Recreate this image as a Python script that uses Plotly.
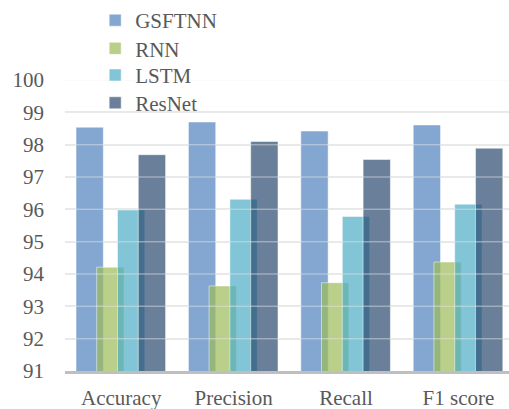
import plotly.graph_objects as go

categories = ["Accuracy", "Precision", "Recall", "F1 score"]
series_names = ["GSFTNN", "RNN", "LSTM", "ResNet"]
gsftnn = [98.54, 98.70, 98.42, 98.61]
rnn = [94.21, 93.63, 93.73, 94.37]
lstm = [95.98, 96.31, 95.78, 96.16]
resnet = [97.69, 98.10, 97.54, 97.89]
y_ticks = [91, 92, 93, 94, 95, 96, 97, 98, 99, 100]

values = [gsftnn, rnn, lstm, resnet]
colors = ["rgba(79,129,189,0.7)", "rgba(155,187,89,0.7)",
          "rgba(75,172,198,0.7)", "rgba(41,73,111,0.7)"]
offsets = [-0.402, -0.218, -0.033, 0.152]
bar_w = 0.243
legend_ids = ["legend", "legend2", "legend3", "legend4"]
legend_tops = [1.0, 0.931, 0.866, 0.798]

FONT = "Times New Roman"
TXT = "#595959"

fig = go.Figure()
for name, vals, col, off, lid in zip(series_names, values, colors, offsets, legend_ids):
    fig.add_trace(go.Bar(
        name=name, x=categories, y=vals,
        offset=off, width=bar_w, legend=lid,
        marker=dict(color=col,
                    line=dict(color="rgba(255,255,255,0.5)", width=1)),
    ))

for v in y_ticks[1:]:
    fig.add_shape(type="line", xref="paper", x0=0, x1=1, yref="y", y0=v, y1=v,
                  line=dict(color="rgba(240,240,240,0.45)", width=1.5), layer="above")

legend_common = dict(xref="container", yref="container", x=0.187,
                     xanchor="left", yanchor="top", bgcolor="rgba(0,0,0,0)",
                     font=dict(family=FONT, size=21, color=TXT))
legends = {lid: dict(legend_common, y=yt) for lid, yt in zip(legend_ids, legend_tops)}

fig.update_layout(
    width=509, height=409,
    margin=dict(l=65, r=0, t=80, b=38, autoexpand=False),
    barmode="overlay",
    paper_bgcolor="white", plot_bgcolor="white",
    font=dict(family=FONT, size=21, color=TXT),
    showlegend=True,
    xaxis=dict(range=[-0.5, 3.45], showgrid=False, showline=True,
               linecolor="#bfbfbf", linewidth=3, ticks="",
               tickfont=dict(family=FONT, size=21, color=TXT),
               ticklabelstandoff=6),
    yaxis=dict(range=[91, 100], tickvals=y_ticks, showgrid=True,
               gridcolor="#e6e6e6", gridwidth=2, zeroline=False, showline=False,
               ticks="", tickfont=dict(family=FONT, size=21, color=TXT),
               ticklabelstandoff=20),
    **legends,
)

fig.write_html("out.html", config={"displayModeBar": False},
               post_script="document.body.style.margin='0px';")
